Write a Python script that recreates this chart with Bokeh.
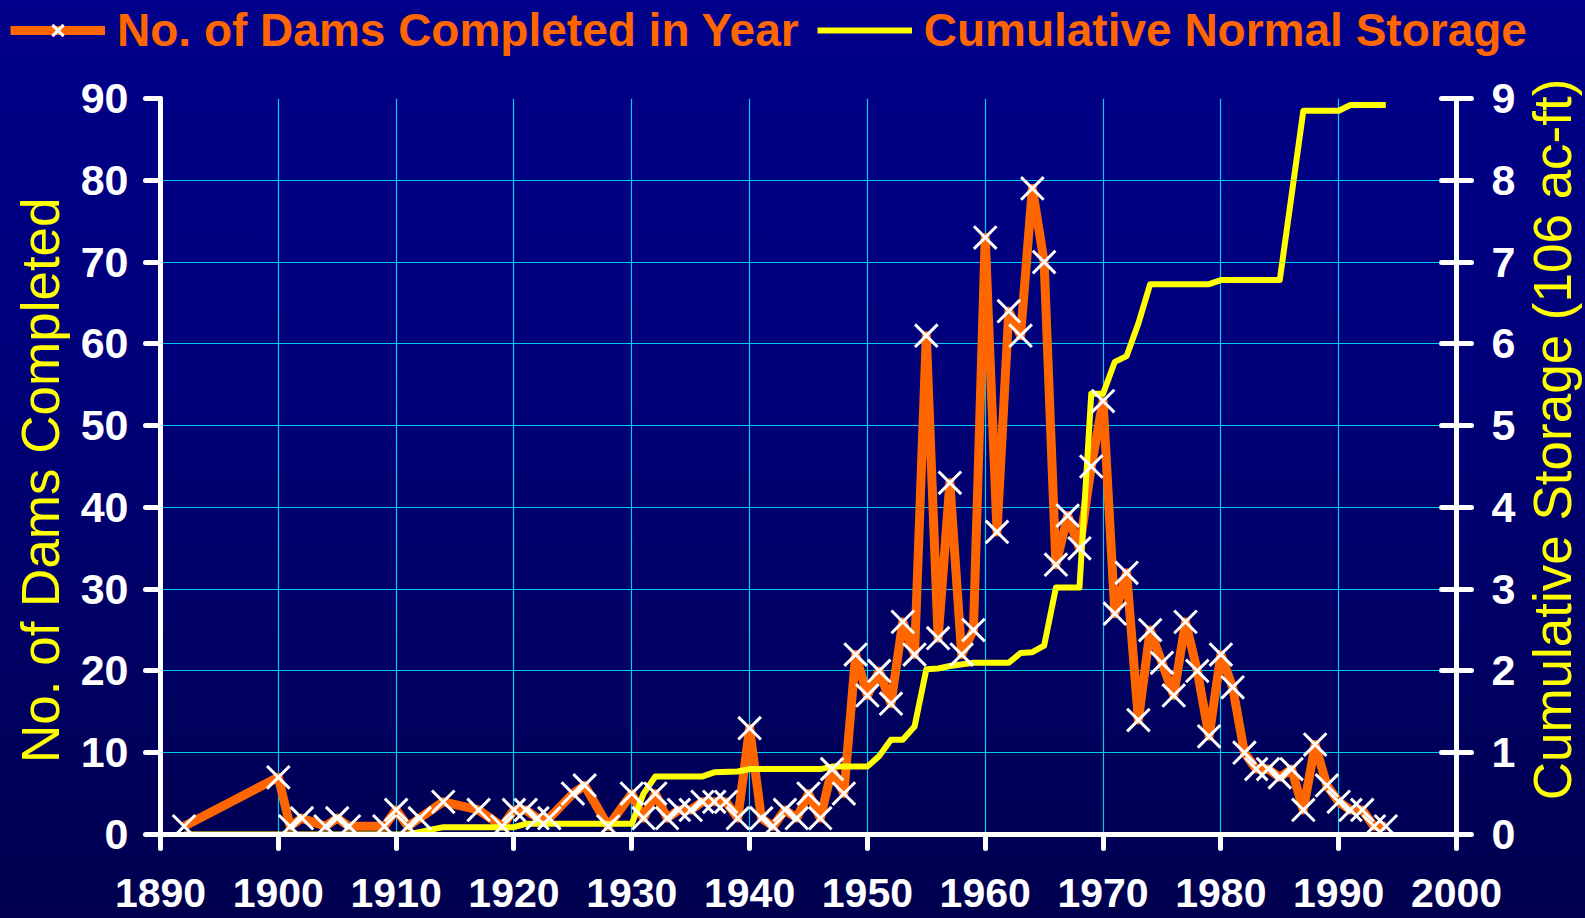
import math
from bokeh.plotting import figure
from bokeh.models import Range1d, LinearAxis, FixedTicker
from bokeh.layouts import column, row
from bokeh.core.properties import value
from bokeh.embed import file_html
from bokeh.resources import INLINE

# ---------------- data ----------------
dam_years = [1892, 1900, 1901, 1902, 1904, 1905, 1906, 1909, 1910, 1911, 1912, 1914, 1917,
             1919, 1920, 1921, 1922, 1923, 1925, 1926, 1928, 1930, 1931, 1932, 1933, 1934,
             1935, 1936, 1937, 1938, 1939, 1940, 1941, 1942, 1943, 1944, 1945, 1946, 1947,
             1948, 1949, 1950, 1951, 1952, 1953, 1954, 1955, 1956, 1957, 1958, 1959, 1960,
             1961, 1962, 1963, 1964, 1965, 1966, 1967, 1968, 1969, 1970, 1971, 1972, 1973,
             1974, 1975, 1976, 1977, 1978, 1979, 1980, 1981, 1982, 1983, 1984, 1985, 1986,
             1987, 1988, 1989, 1990, 1991, 1992, 1993, 1994]
dam_counts = [1, 7, 1, 2, 1, 2, 1, 1, 3, 1, 2, 4, 3,
              1, 3, 3, 2, 2, 5, 6, 1, 5, 2, 5, 2, 3,
              3, 4, 4, 4, 2, 13, 2, 1, 3, 2, 5, 2, 8,
              5, 22, 17, 20, 16, 26, 22, 61, 24, 43, 22, 25, 73,
              37, 64, 61, 79, 70, 33, 39, 35, 45, 53, 27, 32, 14,
              25, 21, 17, 26, 20, 12, 22, 18, 10, 8, 8, 7, 8,
              3, 11, 6, 4, 3, 3, 1, 1]

storage_years = [1892, 1911, 1914, 1920, 1921, 1930, 1931, 1932, 1936, 1937, 1939, 1940,
                 1946, 1947, 1950, 1951, 1952, 1953, 1954, 1955, 1956, 1957, 1959, 1962,
                 1963, 1964, 1965, 1966, 1968, 1969, 1970, 1971, 1972, 1973, 1974, 1979,
                 1980, 1985, 1987, 1990, 1991, 1994]
storage_vals = [0.0, 0.0, 0.09, 0.09, 0.13, 0.13, 0.5, 0.71, 0.71, 0.76, 0.77, 0.80,
                0.80, 0.83, 0.83, 0.96, 1.16, 1.16, 1.32, 2.02, 2.03, 2.06, 2.10, 2.10,
                2.22, 2.23, 2.31, 3.02, 3.02, 5.39, 5.39, 5.78, 5.85, 6.25, 6.73, 6.73,
                6.78, 6.78, 8.85, 8.85, 8.92, 8.92]

x_ticks = list(range(1890, 2001, 10))
left_ticks = list(range(0, 91, 10))
right_ticks = list(range(0, 10))

left_title = "No. of Dams Completed"
right_title = "Cumulative Storage (106 ac-ft)"
series1_name = "No. of Dams Completed in Year"
series2_name = "Cumulative Normal Storage"

ORANGE = "#FF6600"
YELLOW = "#FFFF00"
GRID = "#00CCEE"
FONT = "Liberation Sans"

# ---------------- sizes ----------------
W, H = 1585, 918
LEG_H = 60
LEFT_W = 76
RIGHT_W = 67
MAIN_W = W - LEFT_W - RIGHT_W
MAIN_H = H - LEG_H
LEFT_SHIFT = 28         # compensation for frame alignment of the left title strip


def bare(width, height, xr, yr):
    f = figure(width=width, height=height, output_backend="svg", toolbar_location=None,
               x_range=xr, y_range=yr, x_axis_type=None, y_axis_type=None,
               min_border=0)
    f.min_border_left = f.min_border_right = f.min_border_top = f.min_border_bottom = 0
    f.background_fill_alpha = 0
    f.border_fill_alpha = 0
    f.outline_line_alpha = 0
    return f


# ---------------- main chart ----------------
p = figure(width=MAIN_W, height=MAIN_H, output_backend="svg", toolbar_location=None,
           x_range=Range1d(1890, 2000), y_range=Range1d(0, 90),
           min_border_left=84, min_border_right=MAIN_W - 84 - 1298,
           min_border_top=38, min_border_bottom=84)
p.extra_y_ranges = {"s": Range1d(0, 9)}
p.background_fill_alpha = 0
p.border_fill_alpha = 0
p.outline_line_alpha = 0

p.xgrid.ticker = FixedTicker(ticks=x_ticks)
p.ygrid.ticker = FixedTicker(ticks=left_ticks)
for g in (p.xgrid[0], p.ygrid[0]):
    g.grid_line_color = GRID
    g.grid_line_width = 1.2


def style_axis(ax, tin, tout, standoff, size):
    ax.axis_line_color = "white"
    ax.axis_line_width = 5
    ax.axis_line_cap = "round"
    ax.major_tick_line_color = "white"
    ax.major_tick_line_width = 5
    ax.major_tick_line_cap = "round"
    ax.major_tick_in = tin
    ax.major_tick_out = tout
    ax.minor_tick_line_color = None
    ax.major_label_text_color = "white"
    ax.major_label_text_font = FONT
    ax.major_label_text_font_style = "bold"
    ax.major_label_text_font_size = size
    ax.major_label_standoff = standoff


ax_b = p.xaxis[0]
ax_b.ticker = FixedTicker(ticks=x_ticks)
style_axis(ax_b, 0, 14, 30, "41px")

ax_l = p.yaxis[0]
ax_l.ticker = FixedTicker(ticks=left_ticks)
style_axis(ax_l, 0, 15, 17, "43px")

ax_r = LinearAxis(y_range_name="s", ticker=FixedTicker(ticks=right_ticks))
style_axis(ax_r, 15, 15, 20, "43px")
p.add_layout(ax_r, "right")

p.line(dam_years, dam_counts, line_color=ORANGE, line_width=9, line_join="round")
p.line(storage_years, storage_vals, y_range_name="s", line_color=YELLOW, line_width=6,
       line_join="round")
p.scatter(dam_years, dam_counts, marker="x", size=32, line_color="white", line_width=3)

# ---------------- legend strip ----------------
lf = bare(W, LEG_H, Range1d(0, 1), Range1d(0, 1))
lf.line(dam_years, dam_counts, line_color=ORANGE, line_width=9, legend_label=series1_name)
lf.line(storage_years, storage_vals, line_color=YELLOW, line_width=6, legend_label=series2_name)
lf.scatter(dam_years, dam_counts, marker="x", size=30, line_color="white", line_width=3,
           legend_label=series1_name)
lg = lf.legend[0]
lg.orientation = "horizontal"
lg.location = "left"
lg.margin = 10
lg.padding = 0
lg.background_fill_alpha = 0
lg.border_line_alpha = 0
lg.spacing = 18
lg.glyph_width = 95
lg.glyph_height = 40
lg.label_standoff = 12
lg.label_text_color = ORANGE
lg.label_text_font = FONT
lg.label_text_font_style = "bold"
lg.label_text_font_size = "46px"

# ---------------- axis titles ----------------
lt = bare(LEFT_W, MAIN_H, Range1d(0, LEFT_W), Range1d(0, MAIN_H))
lt.text(x=[40], y=[MAIN_H - (477 - LEG_H) - LEFT_SHIFT], text=[left_title], angle=math.pi / 2,
        text_align="center", text_baseline="middle", text_color=YELLOW,
        text_font=value(FONT), text_font_size="53px")

rt = bare(RIGHT_W, MAIN_H, Range1d(0, RIGHT_W), Range1d(0, MAIN_H))
rt.text(x=[RIGHT_W / 2], y=[MAIN_H - (439 - LEG_H)], text=[right_title],
        angle=math.pi / 2, text_align="center", text_baseline="middle", text_color=YELLOW,
        text_font=value(FONT), text_font_size="53px")

layout = column(lf, row(lt, p, column(rt, spacing=0), spacing=0), spacing=0)
layout.styles = {"background": "linear-gradient(to bottom, #00008a 0%, #00007a 40%, #00004e 100%)"}

open("out.html", "w").write(file_html(layout, INLINE))
